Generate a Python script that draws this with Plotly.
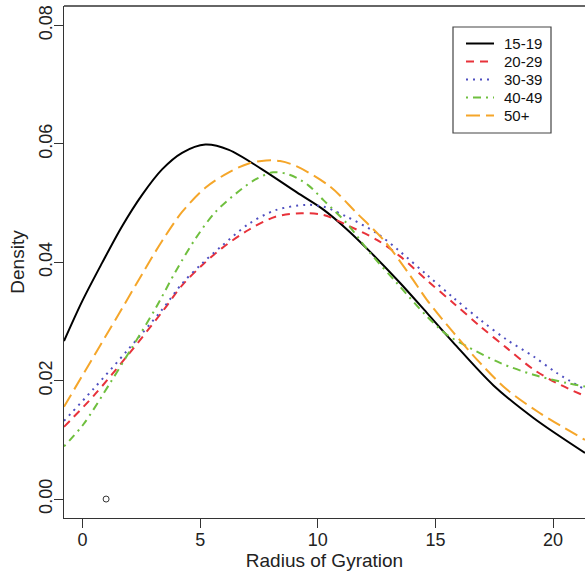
import plotly.graph_objects as go

# ---- data ----
x_1519 = [-0.79, -0.02, 0.83, 1.68, 2.53, 3.38, 4.23, 5.22, 6.22, 7.63, 9.11, 10.24, 11.23, 12.22, 13.5, 14.63, 15.77, 17.47, 19.17, 21.36]
y_1519 = [0.0267, 0.0334, 0.0399, 0.0461, 0.0514, 0.0557, 0.0585, 0.0599, 0.0590, 0.0557, 0.0518, 0.0489, 0.0456, 0.0418, 0.0365, 0.0315, 0.0264, 0.0192, 0.0137, 0.0078]

x_2029 = [-0.79, 0.46, 1.88, 3.38, 4.23, 5.08, 5.93, 7.07, 8.2, 9.3, 10.24, 11.23, 12.51, 13.5, 14.63, 15.77, 16.9, 18.04, 19.17, 20.16, 21.36]
y_2029 = [0.0122, 0.0174, 0.0241, 0.0316, 0.0361, 0.0395, 0.0424, 0.0455, 0.0477, 0.0483, 0.0480, 0.0463, 0.0438, 0.0410, 0.0370, 0.0331, 0.0292, 0.0255, 0.0219, 0.0196, 0.0174]

x_3039 = [-0.79, 0.46, 1.88, 3.38, 4.23, 5.08, 5.93, 7.07, 8.2, 9.5, 10.24, 11.23, 12.51, 13.5, 14.63, 15.77, 16.9, 18.04, 19.17, 20.16, 21.36]
y_3039 = [0.0132, 0.0186, 0.0250, 0.0320, 0.0364, 0.0398, 0.0428, 0.0465, 0.0488, 0.0497, 0.0494, 0.0477, 0.0449, 0.0418, 0.0379, 0.0340, 0.0303, 0.0269, 0.0241, 0.0213, 0.0185]

x_4049 = [-0.79, 0.03, 1.17, 2.10, 3.10, 3.95, 4.80, 5.65, 6.64, 7.35, 8.1, 8.8, 9.6, 10.24, 11.23, 12.22, 13.36, 14.63, 15.48, 16.34, 17.75, 19.17, 20.59, 21.36]
y_4049 = [0.0089, 0.0126, 0.0196, 0.0256, 0.0322, 0.0384, 0.0440, 0.0485, 0.0520, 0.0540, 0.0552, 0.0548, 0.0530, 0.0505, 0.0466, 0.0416, 0.0365, 0.0309, 0.0278, 0.0258, 0.0230, 0.0210, 0.0196, 0.0190]

x_50p = [-0.79, 0.83, 1.68, 2.53, 3.38, 4.23, 5.22, 6.22, 7.07, 7.8, 8.4, 9.11, 10.52, 11.66, 12.79, 13.92, 14.63, 15.77, 16.9, 18.04, 19.45, 21.36]
y_50p = [0.0156, 0.0265, 0.0322, 0.0380, 0.0436, 0.0485, 0.0526, 0.0552, 0.0567, 0.0572, 0.0571, 0.0562, 0.0528, 0.0483, 0.0438, 0.0378, 0.0337, 0.0281, 0.0230, 0.0185, 0.0145, 0.0100]

point_x = [1]
point_y = [0]

x_ticks = [0, 5, 10, 15, 20]
y_ticks = [0.00, 0.02, 0.04, 0.06, 0.08]
y_tick_text = ["0.00", "0.02", "0.04", "0.06", "0.08"]

series = [
    ("15-19", x_1519, y_1519, "#000000", "solid"),
    ("20-29", x_2029, y_2029, "#E8323A", "8px,6px"),
    ("30-39", x_3039, y_3039, "#4F4FC0", "2px,5px"),
    ("40-49", x_4049, y_4049, "#6FBF3E", "2px,5px,8px,5px"),
    ("50+", x_50p, y_50p, "#F5A62A", "14px,6px"),
]

FONT = "Liberation Sans, Arial, Helvetica, sans-serif"
W, H = 585, 573
ML, MR, MT, MB = 64, 0, 6, 55
PW, PH = W - ML - MR, H - MT - MB


def px(xp):
    return (xp - ML) / PW


def py(yp):
    return (H - MB - yp) / PH


fig = go.Figure()
for name, xs, ys, col, dash in series:
    fig.add_trace(go.Scatter(
        x=xs, y=ys, mode="lines", name=name, showlegend=False,
        line=dict(color=col, width=2, dash=dash, shape="spline", smoothing=0.9),
    ))

fig.add_trace(go.Scatter(
    x=point_x, y=point_y, mode="markers", showlegend=False,
    marker=dict(symbol="circle-open", size=6, color="#333333", line=dict(width=1, color="#333333")),
))

# legend drawn as a framed key (box, line samples, labels)
shapes = [
    dict(type="line", xref="paper", yref="paper", x0=0, x1=1, y0=1, y1=1,
         line=dict(color="#333333", width=1.3)),
    dict(type="rect", xref="paper", yref="paper", x0=px(453), x1=px(551), y0=py(133), y1=py(27),
         line=dict(color="#444444", width=1.2), fillcolor="white", layer="above"),
]
annotations = []
for i, (name, xs, ys, col, dash) in enumerate(series):
    yc = 43.5 + i * 18
    shapes.append(dict(type="line", xref="paper", yref="paper", x0=px(466), x1=px(494),
                       y0=py(yc), y1=py(yc), line=dict(color=col, width=2, dash=dash), layer="above"))
    annotations.append(dict(text=name, xref="paper", yref="paper", x=px(502), y=py(yc),
                            xanchor="left", yanchor="middle", showarrow=False,
                            font=dict(size=15, color="#111111")))

fig.update_layout(
    width=W, height=H,
    margin=dict(l=ML, r=MR, t=MT, b=MB),
    paper_bgcolor="white", plot_bgcolor="white",
    font=dict(family=FONT, size=18, color="#222222"),
    showlegend=False,
    xaxis=dict(
        range=[-0.79, 21.36], tickmode="array", tickvals=x_ticks,
        showgrid=False, zeroline=False,
        showline=True, linecolor="#333333", linewidth=1.3,
        ticks="outside", ticklen=9, tickcolor="#333333", tickwidth=1.3,
        title=dict(text="Radius of Gyration", font=dict(size=19), standoff=4),
        tickfont=dict(size=18), ticklabelstandoff=-4,
    ),
    yaxis=dict(
        range=[-0.0032, 0.0833], tickmode="array", tickvals=y_ticks, ticktext=y_tick_text,
        showgrid=False, zeroline=False,
        showline=True, linecolor="#333333", linewidth=1.3,
        ticks="outside", ticklen=9, tickcolor="#333333", tickwidth=1.3,
        tickangle=-90, ticklabelstandoff=-5,
        title=dict(text="Density", font=dict(size=19), standoff=6),
        tickfont=dict(size=18),
    ),
    shapes=shapes,
    annotations=annotations,
)

fig.write_html("out.html", config={"displayModeBar": False},
               post_script="document.body.style.margin='0';document.body.style.overflow='hidden';")
